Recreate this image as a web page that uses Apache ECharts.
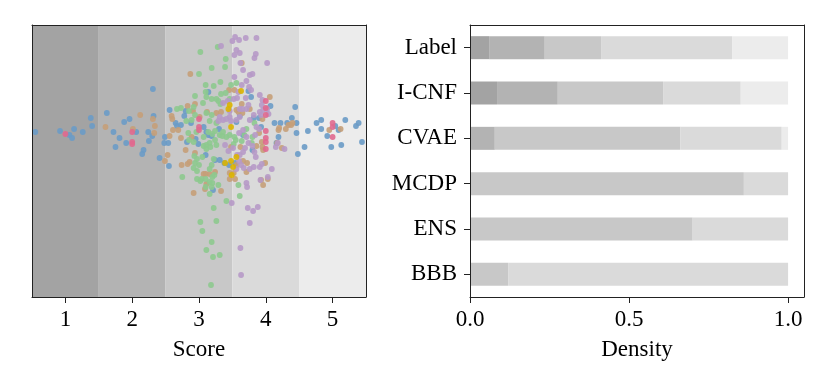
<!DOCTYPE html>
<html>
<head>
<meta charset="utf-8">
<script src="https://cdn.jsdelivr.net/npm/echarts@6/dist/echarts.min.js"></script>
<style>
  html, body { margin: 0; padding: 0; background: #fff; }
  #chart { width: 830px; height: 388px; }
</style>
</head>
<body>
<div id="chart"></div>
<script>
// score bands (background of left panel, also the bar segment colours)
const scores = [1, 2, 3, 4, 5]
const bandColors = ['#a3a3a3', '#b3b3b3', '#c8c8c8', '#dadada', '#ececec']

// swarm points: [score, jitter]
const bluePts = [
  [0.55, 0], [0.92, 1], [1.06, -3], [1.1, -6], [1.13, 3], [1.26, 0], [1.38, 14], [1.4, 6],
  [1.62, 19], [1.72, 0], [1.75, -15], [1.81, -6], [1.88, 10], [1.91, -11], [1.96, 13], [2.06, 0],
  [2.15, -22], [2.17, -18], [2.24, 0], [2.25, -9], [2.3, -4], [2.31, 43], [2.32, 16], [2.41, -26],
  [2.48, -11], [2.49, -5], [2.54, -11], [2.55, -34], [2.56, 22], [2.65, 9], [2.67, 6], [2.73, 7],
  [2.78, 16], [2.82, -10], [2.8, 21], [2.88, 9], [2.95, -7], [2.99, -12], [3.07, 5], [3.11, 0],
  [3.1, -23], [3.14, 40], [3.14, -3], [3.19, -4], [3.24, -28], [3.21, -58], [3.3, 3], [3.31, -28],
  [3.38, -31], [3.45, -33], [3.54, -31], [3.56, 10], [3.61, 16], [3.66, -3], [3.74, 41], [3.78, 35],
  [3.8, -18], [3.82, 14], [3.9, 14], [3.93, 5], [4.07, 26], [4.13, 9], [4.16, -11], [4.19, -5],
  [4.22, 9], [4.32, 9], [4.39, 14], [4.44, 25], [4.46, 9], [4.46, -1], [4.48, -22], [4.58, -15],
  [4.63, 1], [4.76, 9], [4.83, 12], [4.83, 3], [4.92, -4], [4.98, -15], [5.04, 6], [5.09, 2],
  [5.13, -13], [5.19, 12], [5.35, 6], [5.39, 9], [5.44, -10]
]
const tanPts = [
  [1.6, 5], [2.01, 3], [2.12, 17], [2.31, 13], [2.34, 6], [2.33, -1], [2.49, -29], [2.53, -23],
  [2.56, -4], [2.59, 16], [2.6, 13], [2.61, 2], [2.69, 2], [2.73, -6], [2.8, -18], [2.83, 26],
  [2.87, 58], [2.89, -5], [2.91, 21], [2.94, 28], [2.74, -33], [2.83, -32], [2.86, -30], [2.92, -61],
  [2.94, -21], [3.01, 15], [3.07, -42], [3.1, -42], [3.11, -52], [3.09, -57], [3.24, -40], [3.33, -59],
  [3.16, -42], [3.12, 20], [3.26, 19], [3.33, 20], [3.45, 42], [3.64, 69], [3.56, 22], [3.59, 20],
  [3.64, 28], [3.65, 19], [3.76, 23], [3.62, -15], [3.46, -41], [3.52, -41], [3.46, -47], [3.54, -47],
  [3.72, -31], [3.56, -33], [3.66, -29], [3.71, -40], [3.99, -31], [3.96, -53], [3.93, -48], [4.03, -47],
  [4.06, 35], [3.95, 13], [3.9, -1], [3.94, -10], [3.96, -18], [3.86, -14], [3.95, -15], [4.19, 2],
  [4.2, 4], [4.3, 3], [4.34, 7], [4.38, 7], [4.4, 9], [4.17, -11], [4.24, -16], [4.95, 2],
  [5.12, 3], [3.53, 42], [3.48, -15]
]
const greenPts = [
  [3.02, 80], [3.28, 85], [3.4, 73], [3.39, 65], [3.19, 64], [3.0, 58], [3.56, 49], [3.48, 47],
  [3.1, 47], [3.22, 46], [3.32, 50], [3.1, 40], [2.94, 36], [3.33, 38], [3.4, 39], [3.19, 33],
  [3.26, 33], [3.29, 31], [3.06, 29], [3.46, 33], [3.32, 28], [3.11, 35], [2.73, 24], [2.67, 23],
  [2.85, 21], [2.92, 25], [2.81, 11], [2.89, 12], [2.94, 17], [3.19, 17], [3.16, 11], [3.11, 19],
  [2.96, 0], [3.07, -5], [3.14, 0], [3.2, -2], [3.24, 1], [3.31, -3], [3.35, -4], [3.41, -5],
  [3.46, -3], [3.53, -5], [3.36, 0], [3.26, 9], [3.07, -14], [3.11, -13], [3.16, -11], [3.11, -17],
  [3.17, -15], [3.24, -8], [3.26, -13], [2.84, -1], [2.85, -8], [2.92, -10], [2.93, -24], [2.94, -31],
  [2.97, -27], [3.05, -25], [3.22, -27], [3.19, -33], [3.16, -37], [3.0, -33], [2.97, -39], [2.92, -36],
  [2.75, -45], [2.97, -47], [3.02, -49], [3.04, -47], [3.16, -50], [3.19, -55], [3.1, -55], [3.1, -47],
  [3.2, -45], [3.23, -43], [3.29, -53], [3.2, -51], [3.16, -62], [3.41, -69], [3.59, -53], [3.61, -64],
  [3.22, -76], [3.26, -89], [3.02, -90], [3.05, -99], [3.19, -110], [3.11, -118], [3.21, -125], [3.31, -123],
  [3.18, -153], [3.55, -8], [3.52, -12], [3.64, -9], [3.68, -3], [3.71, 3], [3.79, -11], [3.8, -5],
  [3.83, 9]
]
const purplePts = [
  [3.54, 95], [3.6, 92], [3.5, 91], [3.7, 94], [3.86, 94], [3.33, 86], [3.56, 82], [3.53, 77],
  [3.61, 79], [3.85, 78], [3.83, 74], [4.02, 69], [3.62, 69], [3.66, 62], [3.53, 55], [3.8, 58],
  [3.76, 57], [3.71, 51], [3.64, 47], [3.75, 45], [3.78, 42], [3.59, 40], [3.7, 34], [3.91, 37],
  [3.95, 32], [3.52, 33], [3.43, 31], [3.36, 29], [3.57, 34], [3.61, 23], [3.65, 23], [3.71, 23],
  [3.74, 27], [3.91, 20], [3.96, 22], [4.04, 18], [3.93, 17], [3.82, 17], [3.61, 15], [3.56, 12],
  [3.31, 15], [3.36, 12], [3.46, 15], [3.76, 12], [3.86, 5], [3.9, 3], [3.84, -3], [3.66, 2],
  [3.6, -1], [3.71, -5], [3.74, -11], [3.8, -14], [3.69, -16], [3.66, -20], [3.61, -23], [3.6, -29],
  [3.63, -33], [3.67, -36], [3.56, -37], [3.76, -37], [3.82, -35], [3.91, -35], [3.94, -32], [3.85, -25],
  [3.83, -20], [4.09, -37], [4.03, -45], [3.92, -48], [3.71, -51], [3.72, -55], [3.49, -71], [3.73, -76],
  [3.81, -79], [3.88, -75], [3.76, -91], [3.62, -116], [3.63, -143], [3.41, 13], [3.46, 21], [3.94, 27],
  [4.02, 23], [4.15, -15], [4.28, -17], [4.18, -11], [3.48, 11], [3.29, 11], [3.44, -19], [3.51, -16],
  [3.39, -13], [3.57, -23]
]
const pinkPts = [
  [1, -2], [2, 0], [2, -10], [2, -12], [3, 13], [3, 5], [3, 2], [4, 31], [4, 24], [4, 17],
  [4, 1], [4, -6], [4, -10], [4, -17], [5, 9], [5, 5], [5, -5]
]
const yellowPts = [
  [3.63, 41], [3.46, 27], [3.44, 23], [3.48, 5], [3.56, -25], [3.48, -29], [3.39, -31], [3.51, -35],
  [3.49, -43]
]

// density bars: share of each score per method
const methods = ['Label', 'I-CNF', 'CVAE', 'MCDP', 'ENS', 'BBB']
const score1 = [0.06, 0.085, 0, 0, 0, 0]
const score2 = [0.175, 0.191, 0.078, 0, 0, 0]
const score3 = [0.177, 0.331, 0.583, 0.861, 0.7, 0.12]
const score4 = [0.412, 0.244, 0.319, 0.139, 0.3, 0.88]
const score5 = [0.176, 0.149, 0.02, 0, 0, 0]
const densityTicks = [0, 0.5, 1]

const font = 'Liberation Serif'
const fontSize = 23
const textColor = '#000'
const frameLine = { show: true, onZero: false, lineStyle: { color: '#222', width: 1 } }

// plain frame edge: line only
const edgeAxis = (extra) => Object.assign({
  type: 'value',
  z: 10,
  axisLine: frameLine,
  axisTick: { show: false },
  axisLabel: { show: false },
  splitLine: { show: false }
}, extra)

const dotSeries = (name, pts, color) => ({
  name: name,
  type: 'scatter',
  xAxisIndex: 0,
  yAxisIndex: 0,
  symbolSize: 5.8,
  z: 3,
  silent: true,
  itemStyle: { color: color, opacity: 0.9 },
  data: pts
})

const barSeries = [score1, score2, score3, score4, score5].map((vals, i) => ({
  name: 'score' + (i + 1),
  type: 'bar',
  stack: 'density',
  xAxisIndex: 2,
  yAxisIndex: 2,
  barWidth: 23,
  silent: true,
  itemStyle: { color: bandColors[i] },
  data: vals
}))

const myChart = echarts.init(document.getElementById('chart'), null, { renderer: 'canvas' })

const option = {
  animation: false,
  textStyle: { fontFamily: font },
  grid: [
    { left: 32, top: 25, width: 334, height: 272 },
    { left: 470, top: 25, width: 334, height: 272 }
  ],
  xAxis: [
    // left panel, bottom
    {
      gridIndex: 0,
      type: 'value',
      min: 0.5,
      max: 5.5,
      z: 10,
      axisLine: frameLine,
      axisTick: { show: true, length: 6, customValues: scores, lineStyle: { color: '#222' } },
      axisLabel: { customValues: scores, color: textColor, fontSize: fontSize, fontFamily: font, margin: 11 },
      splitLine: { show: false },
      name: 'Score',
      nameLocation: 'middle',
      nameGap: 41,
      nameTextStyle: { color: textColor, fontSize: fontSize, fontFamily: font }
    },
    edgeAxis({ gridIndex: 0, position: 'top', min: 0.5, max: 5.5 }),
    // right panel, bottom
    {
      gridIndex: 1,
      type: 'value',
      min: 0,
      max: 1.05,
      z: 10,
      axisLine: frameLine,
      axisTick: { show: true, length: 6, customValues: densityTicks, lineStyle: { color: '#222' } },
      axisLabel: {
        customValues: densityTicks,
        color: textColor,
        fontSize: fontSize,
        fontFamily: font,
        margin: 11,
        formatter: (v) => v.toFixed(1)
      },
      splitLine: { show: false },
      name: 'Density',
      nameLocation: 'middle',
      nameGap: 41,
      nameTextStyle: { color: textColor, fontSize: fontSize, fontFamily: font }
    },
    edgeAxis({ gridIndex: 1, position: 'top', min: 0, max: 1.05 })
  ],
  yAxis: [
    // left panel jitter axis, no labels
    edgeAxis({ gridIndex: 0, position: 'left', min: -165, max: 107 }),
    edgeAxis({ gridIndex: 0, position: 'right', min: -165, max: 107 }),
    // right panel methods
    {
      gridIndex: 1,
      type: 'category',
      inverse: true,
      data: methods,
      z: 10,
      axisLine: frameLine,
      axisTick: { show: true, length: 6, alignWithLabel: true, lineStyle: { color: '#222' } },
      axisLabel: { color: textColor, fontSize: fontSize, fontFamily: font, margin: 13 }
    },
    edgeAxis({ gridIndex: 1, position: 'right', min: 0, max: 1 })
  ],
  series: [
    {
      name: 'bands',
      type: 'scatter',
      xAxisIndex: 0,
      yAxisIndex: 0,
      data: [],
      z: 1,
      silent: true,
      markArea: {
        silent: true,
        data: scores.map((s, i) => [
          { xAxis: s - 0.5, itemStyle: { color: bandColors[i], opacity: 1 } },
          { xAxis: s + 0.5 }
        ])
      }
    },
    dotSeries('blue', bluePts, '#6a9bc6'),
    dotSeries('tan', tanPts, '#c59f78'),
    dotSeries('green', greenPts, '#8dc98e'),
    dotSeries('purple', purplePts, '#b699c6'),
    dotSeries('pink', pinkPts, '#e0698f'),
    dotSeries('yellow', yellowPts, '#dcb400'),
    ...barSeries
  ]
}

myChart.setOption(option)
</script>
</body>
</html>
